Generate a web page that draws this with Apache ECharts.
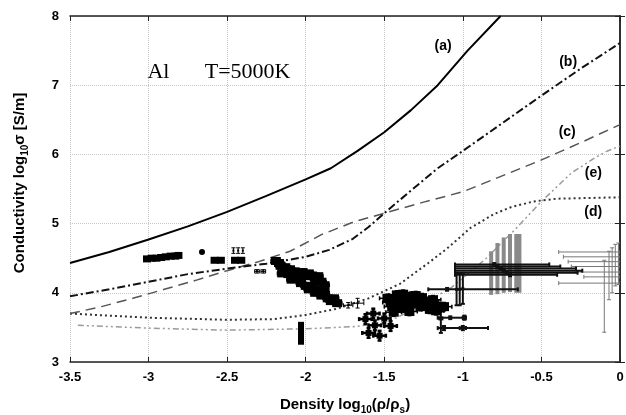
<!DOCTYPE html>
<html><head><meta charset="utf-8">
<script src="https://cdn.jsdelivr.net/npm/echarts@6/dist/echarts.min.js"></script>
<style>html,body{margin:0;padding:0;background:#fff}#c{width:626px;height:415px}</style>
</head><body><div id="c"></div>
<script>
// ---- axis settings ----
const xMin = -3.5, xMax = 0, xStep = 0.5;
const yMin = 3, yMax = 8, yStep = 1;

// ---- model curves [log10 density, log10 conductivity] ----
const curveA = [[-3.5,4.43],[-3.25,4.59],[-3.0,4.77],[-2.75,4.96],[-2.5,5.17],[-2.25,5.40],[-2.0,5.64],[-1.84,5.80],[-1.67,6.05],[-1.5,6.32],[-1.33,6.64],[-1.16,7.0],[-0.97,7.5],[-0.76,8.0]];
const curveB = [[-3.5,3.95],[-3.25,4.05],[-3.0,4.16],[-2.75,4.27],[-2.5,4.35],[-2.25,4.42],[-2.0,4.52],[-1.85,4.62],[-1.7,4.78],[-1.6,4.95],[-1.5,5.15],[-1.35,5.44],[-1.16,5.80],[-1.0,6.05],[-0.75,6.45],[-0.5,6.85],[-0.25,7.24],[0,7.61]];
const curveC = [[-3.5,3.70],[-3.3,3.80],[-3.1,3.92],[-2.9,4.05],[-2.7,4.18],[-2.5,4.32],[-2.3,4.45],[-2.1,4.60],[-1.9,4.84],[-1.7,5.02],[-1.5,5.15],[-1.25,5.31],[-1.0,5.46],[-0.75,5.69],[-0.5,5.92],[-0.25,6.17],[0,6.43]];
const curveD = [[-3.5,3.70],[-3.0,3.64],[-2.5,3.61],[-2.2,3.62],[-2.0,3.68],[-1.8,3.77],[-1.6,3.92],[-1.4,4.13],[-1.22,4.43],[-1.1,4.64],[-0.95,4.94],[-0.8,5.14],[-0.69,5.24],[-0.55,5.32],[-0.4,5.36],[0,5.38]];
const curveE = [[-3.45,3.53],[-3.0,3.49],[-2.5,3.46],[-2.0,3.48],[-1.7,3.51],[-1.55,3.55],[-1.42,3.64],[-1.3,3.78],[-1.07,4.08],[-0.85,4.5],[-0.67,4.91],[-0.5,5.32],[-0.31,5.73],[-0.16,5.95],[-0.08,6.05],[0,6.12]];

// ---- curve labels and title texts [x, y, text] ----
const curveLabels = [[-1.126,7.57,'(a)'],[-0.33,7.34,'(b)'],[-0.336,6.32,'(c)'],[-0.17,5.17,'(d)'],[-0.17,5.73,'(e)']];
const titleTexts = [[-2.937,7.19,'Al'],[-2.37,7.19,'T=5000K']];

// ---- experimental points [x, y, dxLow, dxHigh, dyLow, dyHigh] ----
const blobLow = [[-3.01,4.49,0.02,0.02,0.03,0.03],[-2.98,4.50,0.02,0.02,0.03,0.03],[-2.95,4.50,0.02,0.02,0.03,0.03],[-2.92,4.51,0.02,0.02,0.03,0.03],[-2.89,4.52,0.02,0.02,0.03,0.03],[-2.86,4.53,0.02,0.02,0.03,0.03],[-2.83,4.53,0.02,0.02,0.03,0.03],[-2.81,4.54,0.02,0.02,0.03,0.03],
  [-2.58,4.47,0.01,0.01,0.02,0.02],[-2.54,4.47,0.01,0.01,0.02,0.02],[-2.45,4.47,0.01,0.01,0.02,0.02],[-2.41,4.47,0.01,0.01,0.02,0.02]];
const dotPoints = [[-2.66,4.59,0,0,0,0]];
const smallMarks = [[-2.46,4.61,0,0,0.04,0.04],[-2.43,4.61,0,0,0.04,0.04],[-2.40,4.61,0,0,0.04,0.04],[-2.31,4.31,0.015,0.015,0.025,0.025],[-2.27,4.31,0.015,0.015,0.025,0.025],[-1.73,3.82,0.03,0.03,0.04,0.04],[-1.67,3.85,0.04,0.04,0.07,0.07]];
const diagBlob = [[-2.19,4.46],[-2.17,4.43],[-2.16,4.39],[-2.13,4.37],[-2.13,4.31],[-2.11,4.27],[-2.10,4.34],[-2.08,4.24],[-2.07,4.31],[-2.05,4.27],[-2.04,4.21],[-2.02,4.30],[-2.00,4.24],[-1.98,4.28],[-1.96,4.25],[-1.94,4.20],[-1.92,4.24],[-1.90,4.16],[-1.88,4.11],[-2.09,4.19],
  [-2.03,4.14],[-2.00,4.10],[-1.98,4.05],[-1.96,4.10],[-1.94,4.00],[-1.92,4.05],[-1.90,3.96],[-1.88,4.00],[-1.86,3.92],[-1.84,3.88],[-1.82,3.92],[-1.80,3.85],[-2.15,4.28]].map(p => [p[0],p[1],0.03,0.03,0.04,0.04]);
const vertBlob = [[-2.03,3.30,0,0,0.03,0.03],[-2.03,3.38,0,0,0.03,0.03],[-2.03,3.46,0,0,0.03,0.03],[-2.03,3.53,0,0,0.03,0.03]];
const midBlob = [[-1.48,3.92],[-1.45,3.80],[-1.42,3.97],[-1.40,3.86],[-1.37,3.78],[-1.35,3.92],[-1.32,3.84],[-1.30,3.96],[-1.27,3.80],[-1.24,3.88],[-1.21,3.76],[-1.18,3.84],[-1.15,3.78],[-1.44,3.72],[-1.38,3.98],
  [-1.46,3.86],[-1.41,3.78],[-1.36,3.85],[-1.33,3.95],[-1.29,3.87],[-1.26,3.93],[-1.22,3.82],[-1.19,3.90],[-1.17,3.74],[-1.12,3.80],[-1.34,3.73]].map(p => [p[0],p[1],0.05,0.05,0.06,0.06]);
const crossPts = [[-1.62,3.62],[-1.56,3.53],[-1.50,3.63],[-1.60,3.42],[-1.53,3.38],[-1.46,3.52],[-1.57,3.70]].map(p => [p[0],p[1],0.04,0.04,0.07,0.07]);
const barPts = [[-1.08,3.64,0.08,0.08,0.02,0.02],[-0.99,3.64,0.01,0.01,0.03,0.03],[-1.12,3.49,0.04,0.28,0.03,0.03],[-1.0,3.49,0.02,0.02,0.03,0.03],[-1.14,3.63,0.01,0.01,0.21,0.22],[-1.10,4.05,0.12,0.45,0.02,0.02],[-1.04,4.05,0,0,0.23,0.24],[-1.02,4.05,0,0,0.23,0.23],[-1.00,4.06,0,0,0.22,0.22]];
const bandPts = [[-0.80,4.41,0.25,0.35,0.02,0.02],[-0.78,4.38,0.27,0.40,0.02,0.02],[-0.76,4.35,0.29,0.48,0.02,0.02],[-0.74,4.32,0.31,0.50,0.02,0.02],[-0.72,4.29,0.33,0.45,0.02,0.02],[-0.70,4.26,0.35,0.30,0.02,0.02]];
const grayBars = [[-0.82,4.30,0,0,0.33,0.30],[-0.78,4.36,0,0,0.38,0.36],[-0.74,4.40,0,0,0.40,0.40],[-0.70,4.43,0,0,0.42,0.42],[-0.66,4.45,0,0,0.45,0.40],[-0.64,4.45,0,0,0.45,0.40]];
const thinPts = [[-0.03,4.59,0.36,0.03,0,0],[-0.03,4.52,0.33,0.03,0,0],[-0.03,4.45,0.30,0.03,0,0],[-0.03,4.38,0.28,0.03,0,0],[-0.03,4.30,0.25,0.03,0,0],[-0.03,4.23,0.20,0.03,0,0],[-0.03,4.14,0.36,0.03,0,0],
  [-0.10,4.10,0,0,0.67,0.37],[-0.07,4.30,0,0,0.40,0.30],[-0.05,4.35,0,0,0.35,0.30],[-0.03,4.40,0,0,0.30,0.30],[-0.01,4.40,0,0,0.28,0.32]];

const FONT = 'Liberation Sans, Arial, sans-serif';

function errSeries(data, st) {
  return {
    type: 'custom', coordinateSystem: 'cartesian2d', data: data, silent: true, z: 5, clip: true,
    encode: { x: 0, y: 1 },
    renderItem: function (params, api) {
      const x = api.value(0), y = api.value(1);
      const dxl = api.value(2), dxh = api.value(3), dyl = api.value(4), dyh = api.value(5);
      const p = api.coord([x, y]);
      const ch = [];
      const ls = { stroke: st.color, lineWidth: st.lw };
      const cap = st.cap || 0;
      if (dxl + dxh > 0) {
        const l = api.coord([x - dxl, y]), r = api.coord([x + dxh, y]);
        ch.push({ type: 'line', shape: { x1: l[0], y1: l[1], x2: r[0], y2: r[1] }, style: ls });
        if (cap) {
          ch.push({ type: 'line', shape: { x1: l[0], y1: l[1] - cap, x2: l[0], y2: l[1] + cap }, style: ls });
          ch.push({ type: 'line', shape: { x1: r[0], y1: r[1] - cap, x2: r[0], y2: r[1] + cap }, style: ls });
        }
      }
      if (dyl + dyh > 0) {
        const b = api.coord([x, y - dyl]), t = api.coord([x, y + dyh]);
        ch.push({ type: 'line', shape: { x1: b[0], y1: b[1], x2: t[0], y2: t[1] }, style: ls });
        if (cap) {
          ch.push({ type: 'line', shape: { x1: b[0] - cap, y1: b[1], x2: b[0] + cap, y2: b[1] }, style: ls });
          ch.push({ type: 'line', shape: { x1: t[0] - cap, y1: t[1], x2: t[0] + cap, y2: t[1] }, style: ls });
        }
      }
      if (st.mw > 0) {
        if (st.circle) ch.push({ type: 'circle', shape: { cx: p[0], cy: p[1], r: st.mw / 2 }, style: { fill: st.color } });
        else ch.push({ type: 'rect', shape: { x: p[0] - st.mw / 2, y: p[1] - st.mh / 2, width: st.mw, height: st.mh }, style: { fill: st.color } });
      }
      return { type: 'group', children: ch };
    }
  };
}

function curve(data, color, width, dash) {
  return { type: 'line', data: data, showSymbol: false, symbol: 'none', silent: true, z: 3,
    lineStyle: { color: color, width: width, type: dash }, animation: false };
}

function textSeries(items, style) {
  return { type: 'scatter', data: items.map(d => ({ value: [d[0], d[1]], name: d[2] })), symbolSize: 1, silent: true, z: 10,
    itemStyle: { color: 'rgba(255,255,255,0)', opacity: 1 },
    label: Object.assign({ show: true, position: 'inside', formatter: p => p.name, color: '#000', opacity: 1, textBorderWidth: 0 }, style) };
}

const chart = echarts.init(document.getElementById('c'), null, { renderer: 'canvas' });
const axisLine = { show: true, lineStyle: { color: '#222', width: 1.5 } };
const tick = { show: true, inside: true, length: 5, lineStyle: { color: '#222', width: 1 } };
const split = { show: true, lineStyle: { color: '#c8c8c8', type: 'dotted', width: 1 } };
const subRich = {
  b: { fontFamily: FONT, fontSize: 15, fontWeight: 'bold', color: '#000', lineHeight: 20, verticalAlign: 'middle' },
  s: { fontFamily: FONT, fontSize: 10, fontWeight: 'bold', color: '#000', lineHeight: 10, verticalAlign: 'bottom' }
};

chart.setOption({
  animation: false,
  backgroundColor: '#fff',
  grid: { left: 70, right: 6, top: 16, bottom: 53, containLabel: false, outerBoundsMode: 'none' },
  xAxis: [
    { type: 'value', min: xMin, max: xMax, interval: xStep, position: 'bottom',
      axisLine: axisLine, axisTick: tick, splitLine: split,
      axisLabel: { fontFamily: FONT, fontSize: 13, fontWeight: 'bold', color: '#000', margin: 9 },
      name: '{b|Density log}{s|10}{b|(ρ/ρ}{s|s}{b|)}', nameLocation: 'middle', nameGap: 33,
      nameTextStyle: { rich: subRich } },
    { type: 'value', min: xMin, max: xMax, interval: xStep, position: 'top',
      axisLine: axisLine, axisTick: tick, splitLine: { show: false }, axisLabel: { show: false } }
  ],
  yAxis: [
    { type: 'value', min: yMin, max: yMax, interval: yStep, position: 'left',
      axisLine: axisLine, axisTick: tick, splitLine: split,
      axisLabel: { fontFamily: FONT, fontSize: 13, fontWeight: 'bold', color: '#000', margin: 11 },
      name: '{b|Conductivity log}{s|10}{b|σ [S/m]}', nameLocation: 'middle', nameGap: 40, nameRotate: 90,
      nameTextStyle: { rich: subRich, padding: [0, 0, 0, 12] } },
    { type: 'value', min: yMin, max: yMax, interval: yStep, position: 'right',
      axisLine: axisLine, axisTick: tick, splitLine: { show: false }, axisLabel: { show: false } }
  ],
  series: [
    curve(curveE, '#9a9a9a', 1.5, [6, 3, 2, 3, 2, 3]),
    curve(curveD, '#333', 2, [2, 3]),
    curve(curveC, '#555', 1.5, [10, 6]),
    curve(curveB, '#111', 2, [8, 3, 2, 3]),
    curve(curveA, '#000', 2, 'solid'),
    errSeries(thinPts, { color: '#777', lw: 1, cap: 2, mw: 0 }),
    errSeries(grayBars, { color: '#8a8a8a', lw: 4, cap: 0, mw: 0 }),
    errSeries(bandPts, { color: '#111', lw: 2, cap: 2, mw: 3, mh: 3 }),
    errSeries(barPts, { color: '#111', lw: 2, cap: 2, mw: 3, mh: 3 }),
    errSeries(crossPts, { color: '#000', lw: 2.5, cap: 2, mw: 6, mh: 6 }),
    errSeries(midBlob, { color: '#000', lw: 1.5, cap: 2, mw: 10, mh: 9 }),
    errSeries(vertBlob, { color: '#000', lw: 1.5, cap: 0, mw: 6, mh: 7 }),
    errSeries(diagBlob, { color: '#000', lw: 1.5, cap: 2, mw: 10, mh: 8 }),
    errSeries(smallMarks, { color: '#000', lw: 1, cap: 2, mw: 2, mh: 2 }),
    errSeries(blobLow, { color: '#000', lw: 1, cap: 0, mw: 8, mh: 7 }),
    errSeries(dotPoints, { color: '#000', lw: 1, cap: 0, mw: 6, circle: true }),
    textSeries(curveLabels, { fontFamily: FONT, fontSize: 14, fontWeight: 'bold' }),
    textSeries(titleTexts, { fontFamily: 'Liberation Serif, Times New Roman, serif', fontSize: 22, fontWeight: 'normal' })
  ]
});
</script>
</body></html>
